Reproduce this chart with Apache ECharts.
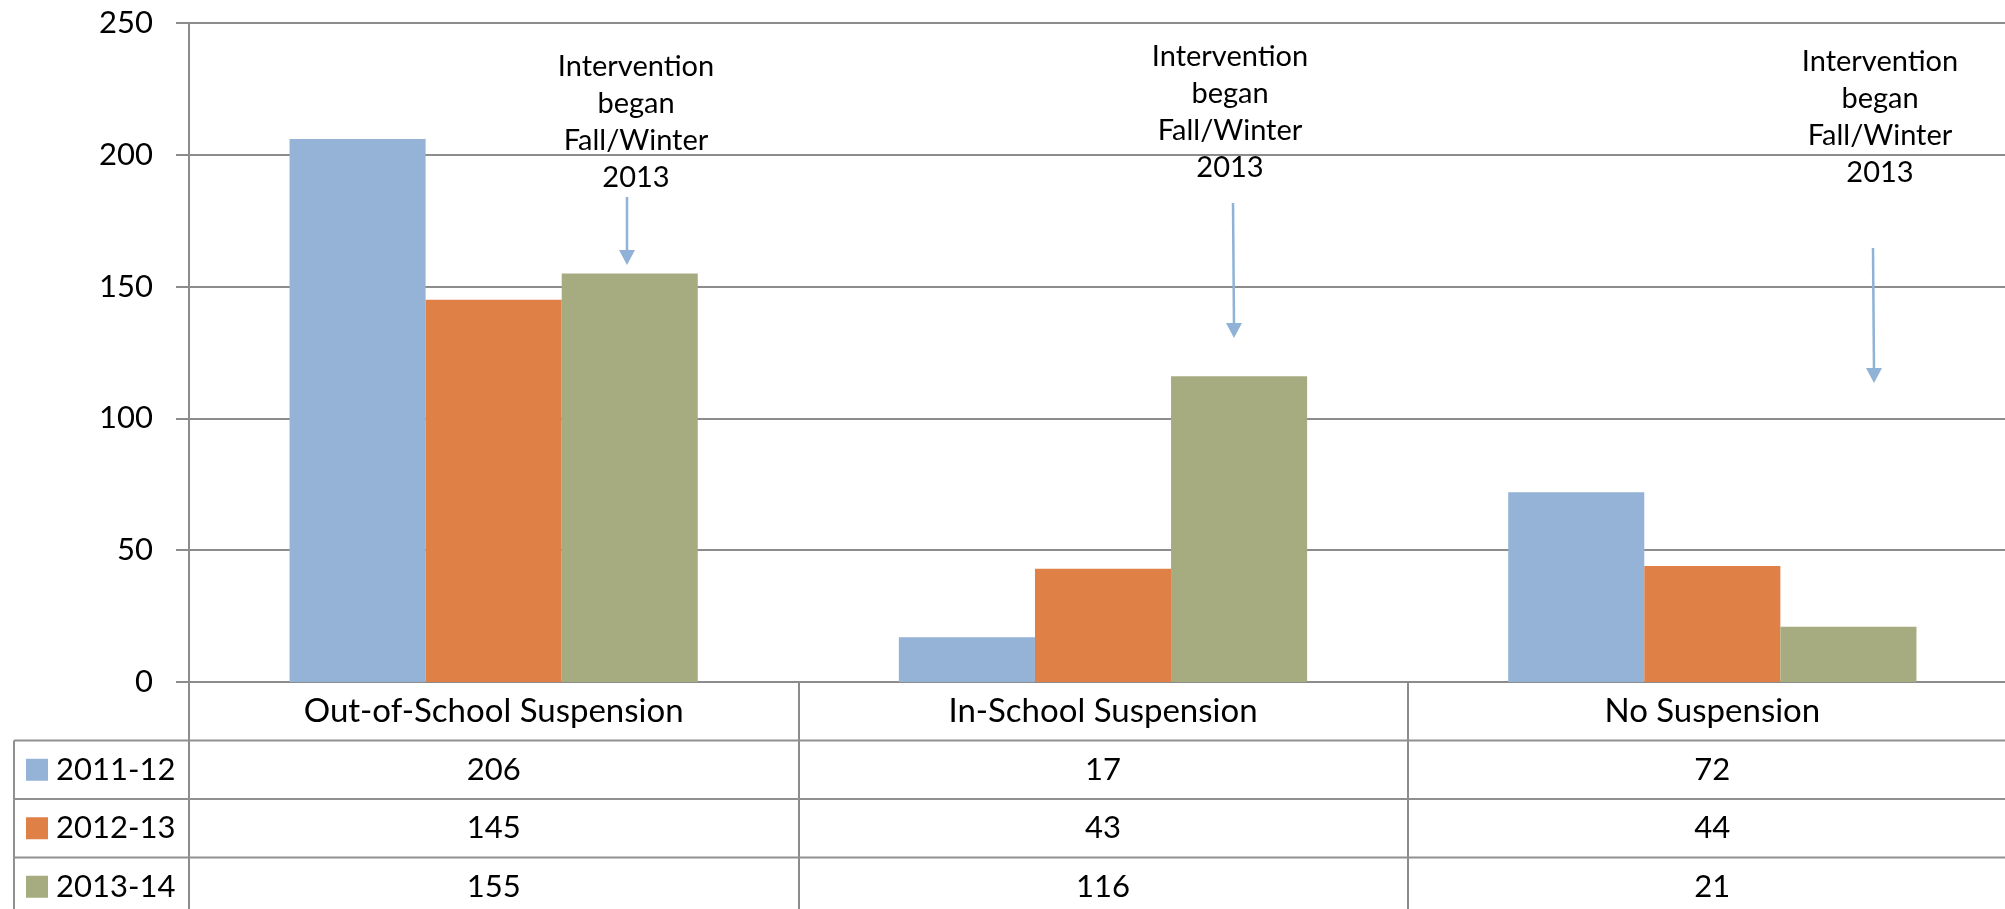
<!DOCTYPE html>
<html><head><meta charset="utf-8">
<script src="https://cdn.jsdelivr.net/npm/echarts@6/dist/echarts.min.js"></script>
<style>html,body{margin:0;padding:0;background:#fff}#c{width:2005px;height:909px}</style>
</head><body><div id="c"></div>
<script>
const categories = ['Out-of-School Suspension', 'In-School Suspension', 'No Suspension'];
const seriesNames = ['2011-12', '2012-13', '2013-14'];
const values2011 = [206, 17, 72];
const values2012 = [145, 43, 44];
const values2013 = [155, 116, 21];
const yTickMax = 250;
const yTickStep = 50;
const annotationText = 'Intervention\nbegan\nFall/Winter\n2013';

const seriesValues = [values2011, values2012, values2013];
const colors = ['#95B3D7', '#DF8047', '#A6AC80'];
const gray = '#8c8c8c';
const FONT = 'Lato';

const W = 2005, H = 909;
const gridLeft = 189, gridTop = 23, gridBottom = 227, gridRight = -12;
const axisY = H - gridBottom;
const rowH = 58.5;

const chart = echarts.init(document.getElementById('c'), null, {renderer: 'canvas'});

const graphics = [];
// table horizontal lines
for (let k = 1; k <= 3; k++) {
  const y = axisY + rowH * k;
  graphics.push({type: 'line', shape: {x1: 14, y1: y, x2: W, y2: y}, style: {stroke: '#909090', lineWidth: 2}, z: 10});
}
graphics.push({type: 'line', shape: {x1: 14, y1: axisY + rowH, x2: 14, y2: H}, style: {stroke: '#909090', lineWidth: 2}, z: 10});
// legend column
seriesNames.forEach((n, i) => {
  const cy = axisY + rowH * (i + 1.5);
  graphics.push({type: 'rect', shape: {x: 26, y: cy - 11, width: 22, height: 22}, style: {fill: colors[i]}, z: 10});
  graphics.push({type: 'text', style: {text: n, x: 56, y: cy, align: 'left', verticalAlign: 'middle', font: '31px ' + FONT, fill: '#000'}, z: 10});
});
// annotations
const annos = [
  {tx: 636, ty: 122, ax: 627, ay1: 197, ax2: 627, ay2: 265},
  {tx: 1230, ty: 112, ax: 1233, ay1: 203, ax2: 1234, ay2: 338},
  {tx: 1880, ty: 117, ax: 1873, ay1: 248, ax2: 1874, ay2: 383}
];
const arrowColor = '#8FB2D6';
annos.forEach(a => {
  graphics.push({type: 'text', style: {text: annotationText, x: a.tx, y: a.ty, align: 'center', verticalAlign: 'middle', font: '29px ' + FONT, lineHeight: 37, fill: '#000'}, z: 10});
  graphics.push({type: 'line', shape: {x1: a.ax, y1: a.ay1, x2: a.ax2, y2: a.ay2 - 12}, style: {stroke: arrowColor, lineWidth: 2.5}, z: 10});
  graphics.push({type: 'polygon', shape: {points: [[a.ax2 - 8, a.ay2 - 15], [a.ax2 + 8, a.ay2 - 15], [a.ax2, a.ay2]]}, style: {fill: arrowColor}, z: 10});
});

chart.setOption({
  animation: false,
  backgroundColor: '#fff',
  grid: {left: gridLeft, top: gridTop, right: gridRight, bottom: gridBottom, containLabel: false, outerBoundsMode: 'none'},
  xAxis: {
    type: 'category',
    data: categories,
    axisLine: {show: true, lineStyle: {color: gray, width: 2}},
    axisTick: {show: true, length: gridBottom, interval: 0, lineStyle: {color: gray, width: 2}},
    axisLabel: {
      interval: 0, margin: 0, color: '#000', fontFamily: FONT, fontSize: 31, lineHeight: rowH,
      formatter: (name, idx) => ['{h|' + name + '}'].concat(seriesValues.map(s => '{v|' + s[idx] + '}')).join('\n'),
      rich: {
        h: {fontFamily: FONT, fontSize: 33, lineHeight: rowH, color: '#000'},
        v: {fontFamily: FONT, fontSize: 31, lineHeight: rowH, color: '#000'}
      }
    }
  },
  yAxis: {
    type: 'value', min: 0, max: yTickMax, interval: yTickStep,
    axisLine: {show: true, lineStyle: {color: gray, width: 2}},
    axisTick: {show: true, length: 13, lineStyle: {color: gray, width: 2}},
    axisLabel: {margin: 36, color: '#000', fontFamily: FONT, fontSize: 31},
    splitLine: {show: true, lineStyle: {color: gray, width: 2}}
  },
  series: seriesNames.map((n, i) => ({
    name: n, type: 'bar', data: seriesValues[i],
    itemStyle: {color: colors[i]},
    barGap: '0%', barCategoryGap: '33%'
  })),
  graphic: graphics
});
</script></body></html>
